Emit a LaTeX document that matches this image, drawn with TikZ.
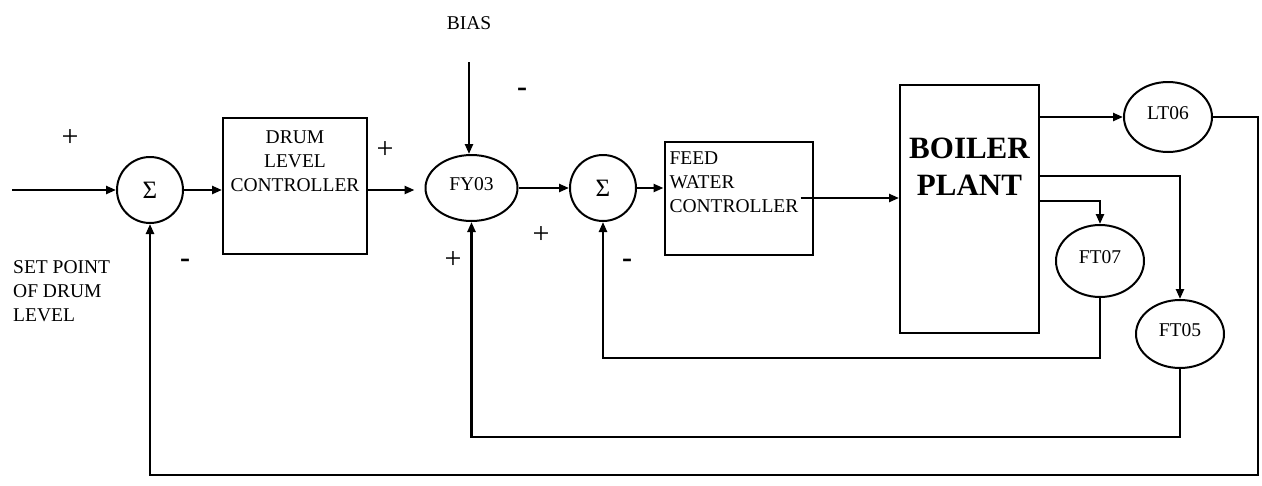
\documentclass[tikz,border=0pt]{standalone}
\usepackage{fontspec}
\setmainfont{Liberation Serif}
\usetikzlibrary{arrows.meta,positioning,shapes.geometric}

\begin{document}
\begin{tikzpicture}[
  x=1pt, y=-1pt,
  every node/.style={font=\fontsize{19.5}{24}\selectfont},
  block/.style={draw, line width=2pt, inner xsep=0pt, inner ysep=0pt},
  sumj/.style={draw, circle, line width=2pt, minimum size=66pt, inner sep=0pt,
               font=\fontsize{25}{25}\selectfont},
  sensor/.style={draw, ellipse, line width=2pt, minimum width=88pt, minimum height=70pt,
                 inner sep=0pt, text depth=7pt},
  sign/.style={font=\fontsize{30}{30}\selectfont, inner sep=0pt},
  line/.style={-{Triangle[length=10pt,width=8pt]}, line width=2.3pt}
]
\useasboundingbox (0,0) rectangle (1262,485);

% ===== Forward path =====
\node[sumj] (sum1) at (150,190) {Σ};
\node[block, right=38pt of sum1, yshift=4pt] (dlc)
  {\parbox[c][136pt][t]{144pt}{\centering\rule{0pt}{25.5pt}DRUM\\LEVEL\\CONTROLLER}};
\node[sensor, right=56.5pt of dlc, yshift=-2pt, minimum width=92pt, minimum height=66pt] (fy03) {FY03};
\node[sumj, right=50.5pt of fy03] (sum2) {Σ};
\node[block, right=26.5pt of sum2, yshift=-10pt, inner xsep=5pt] (fwc)
  {\parbox[c][113pt][t]{138pt}{\raggedright\rule{0pt}{22.5pt}FEED\\WATER\\CONTROLLER}};
\node[block, right=85.5pt of fwc, yshift=-11pt] (boiler)
  {\parbox[c][248pt][t]{139pt}{\centering\fontsize{31}{37}\selectfont\bfseries
   \rule{0pt}{73pt}BOILER\\PLANT}};

% ----- Transmitters -----
\node[sensor] (lt06) at (1168,117) {LT06};
\node[sensor, minimum height=72pt] (ft07) at (1100,261) {FT07};
\node[sensor, minimum height=68pt] (ft05) at (1180,334) {FT05};

% ----- Texts and signs -----
\node[inner sep=0pt, align=left, anchor=north west] (setpt) at (13,260)
  {SET POINT\\OF DRUM\\LEVEL};
\node[inner sep=0pt] (bias) at (469,23) {BIAS};
\node[sign] (plusIn) at (70,138) {+};
\node[sign] (minusFb) at (185,263) {\bfseries -};
\node[sign] (plusDlc) at (385,150) {+};
\node[sign] (minusBias) at (522,92) {\bfseries -};
\node[sign] (plusFt05) at (453,260) {+};
\node[sign] (plusFy) at (541,235) {+};
\node[sign] (minusFt07) at (627,263) {\bfseries -};

% ----- Free ends and rails -----
\coordinate (spIn) at (12,190);
\coordinate (biasIn) at (469,62);
\coordinate (tapF05) at ([yshift=33pt]boiler.east);
\coordinate (tapF07) at ([yshift=8pt]boiler.east);
\coordinate (rail7) at (0,358);
\coordinate (rail5) at (0,437);
\coordinate (rail6) at (1258,475);

% ===== Edges =====
\draw[line] (spIn) -- (sum1.west);
\draw[line] (sum1.east) -- (sum1.east -| dlc.west);
\draw[line, shorten >=10pt] (dlc.east |- sum1) -- (fy03.west |- sum1);
\draw[line] (biasIn) -- (biasIn |- fy03.north);
\draw[line] (fy03.east) -- (fy03.east -| sum2.west);
\draw[line] (sum2.east) -- (sum2.east -| fwc.west);
\draw[line, shorten <=-13pt] (fwc.east) -- (fwc.east -| boiler.west);

\draw[line] (lt06.west -| boiler.east) -- (lt06.west);
\draw[line] (tapF05) -| (ft05.north);
\draw[line] (tapF07) -| (ft07.north);

% feedback loops
\draw[line] (ft07.south) |- (sum2 |- rail7) -- (sum2.south);
\draw[line] (ft05.south) |- (fy03 |- rail5) -- (fy03.south);
\draw[line] (lt06.east) -| (rail6) -| (sum1.south);
\end{tikzpicture}
\end{document}
